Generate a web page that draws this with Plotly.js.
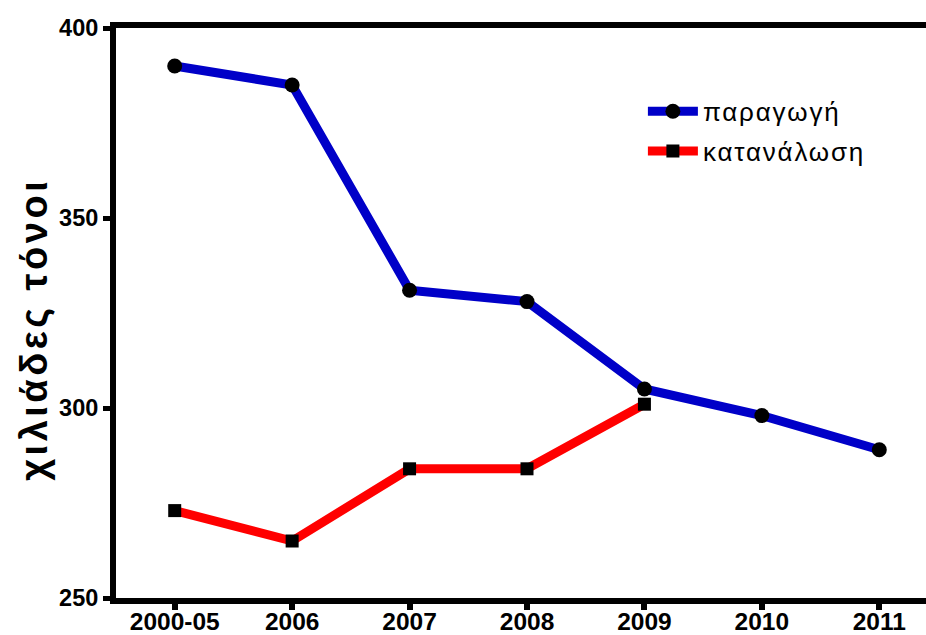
<!DOCTYPE html>
<html>
<head>
<meta charset="utf-8">
<script src="https://cdn.plot.ly/plotly-3.0.1.min.js"></script>
<style>
html,body{margin:0;padding:0;overflow:hidden;background:#fff;}
#chart{width:960px;height:635px;}
.legendtext{letter-spacing:1.8px;}
.annotation-text{letter-spacing:3.5px;}
</style>
</head>
<body>
<div id="chart"></div>
<script>
var categories = ["2000-05", "2006", "2007", "2008", "2009", "2010", "2011"];
var productionName = "παραγωγή";
var productionValues = [390, 385, 331, 328, 305, 298, 289];
var consumptionName = "κατανάλωση";
var consumptionCategories = ["2000-05", "2006", "2007", "2008", "2009"];
var consumptionValues = [273, 265, 284, 284, 301];
var yTickValues = [250, 300, 350, 400];
var yTitle = "χιλιάδες τόνοι";

var traces = [
  {
    x: categories, y: productionValues, name: productionName, legendgroup: "p",
    type: "scatter", mode: "lines+markers",
    line: {color: "#0000c8", width: 9},
    marker: {symbol: "circle", size: 15, color: "#000000"}
  },
  {
    x: consumptionCategories, y: consumptionValues, name: consumptionName, legendgroup: "c",
    type: "scatter", mode: "lines+markers",
    line: {color: "#ff0000", width: 9},
    marker: {symbol: "square", size: 13, color: "#000000"}
  }
];

var layout = {
  width: 960, height: 635,
  margin: {l: 116, r: 22, t: 28, b: 37, pad: 0},
  paper_bgcolor: "#ffffff", plot_bgcolor: "#ffffff",
  showlegend: true,
  legend: {
    x: 0.641, y: 0.895, xanchor: "left", yanchor: "top",
    itemwidth: 50,
    font: {family: "Liberation Sans, Arial, sans-serif", size: 26, color: "#000"},
    bgcolor: "rgba(0,0,0,0)", borderwidth: 0, tracegroupgap: 3
  },
  xaxis: {
    type: "category", categoryorder: "array", categoryarray: categories,
    range: [-0.5, 6.5],
    showline: true, linecolor: "#000", linewidth: 6, mirror: true,
    ticks: "outside", ticklen: 6, tickwidth: 6, tickcolor: "#000",
    ticklabelstandoff: -9,
    showgrid: false, zeroline: false,
    tickfont: {family: "Liberation Sans, Arial, sans-serif", size: 24.5, color: "#000", weight: "bold"}
  },
  yaxis: {
    range: [250, 400], tickvals: yTickValues,
    showline: true, linecolor: "#000", linewidth: 6,
    ticks: "outside", ticklen: 7, tickwidth: 5, tickcolor: "#000",
    showgrid: false, zeroline: false,
    tickfont: {family: "Liberation Sans, Arial, sans-serif", size: 23.5, color: "#000", weight: "bold"}
  },
  annotations: [{
    text: yTitle, xref: "paper", yref: "paper",
    x: -0.1, y: 0.472, xanchor: "center", yanchor: "middle",
    textangle: -90, showarrow: false,
    font: {family: "Liberation Sans, Arial, sans-serif", size: 38, color: "#000", weight: "bold"}
  }]
};

Plotly.newPlot("chart", traces, layout, {displayModeBar: false, staticPlot: true});
</script>
</body>
</html>
